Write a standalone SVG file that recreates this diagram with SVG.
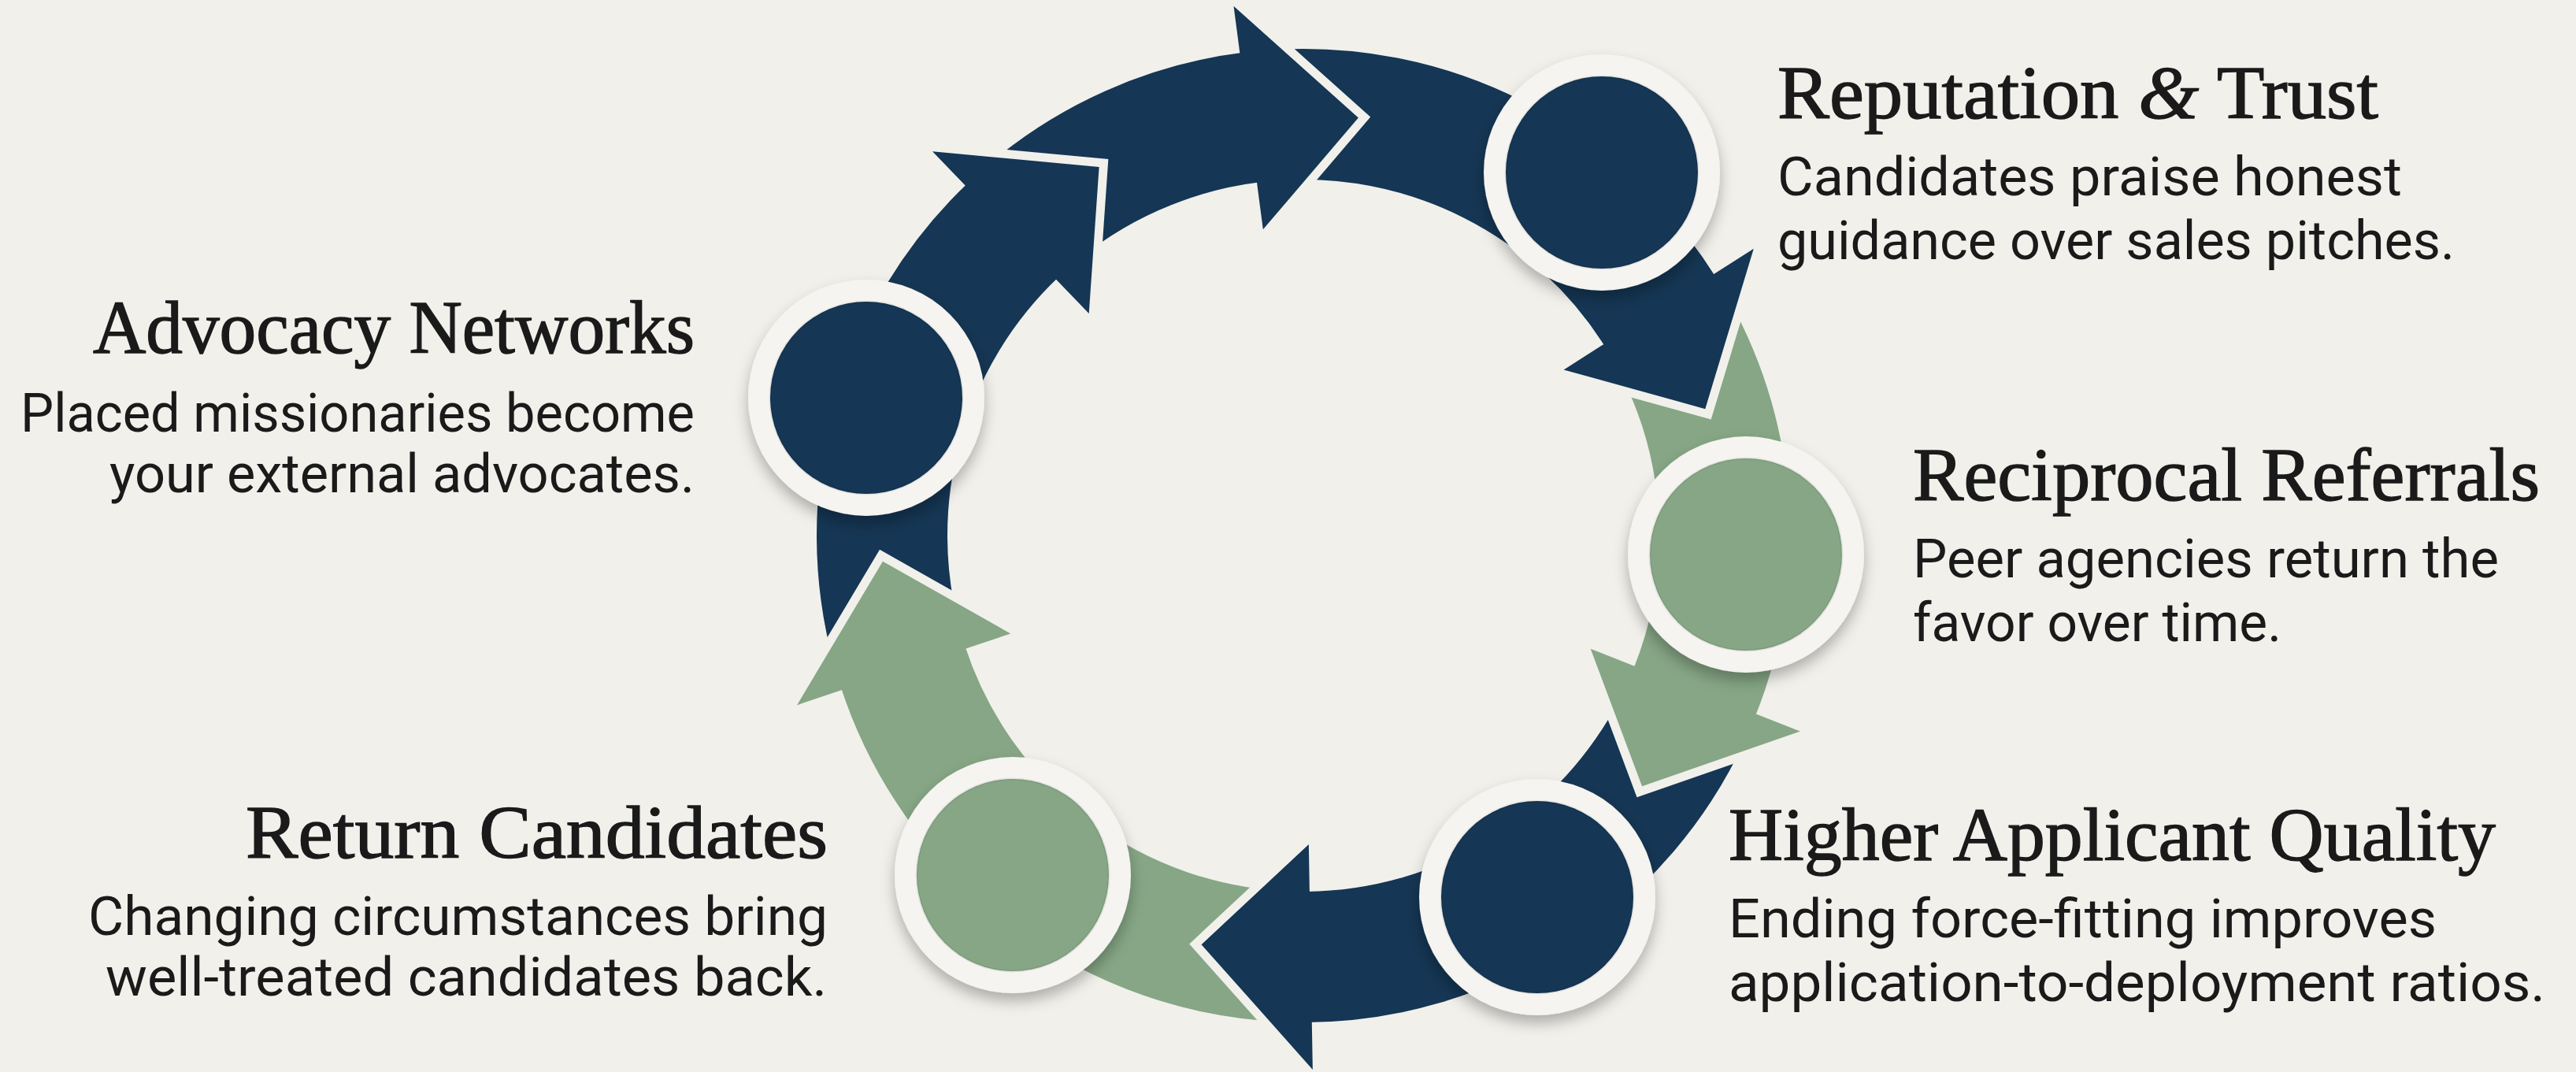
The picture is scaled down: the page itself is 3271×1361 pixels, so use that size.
<svg xmlns="http://www.w3.org/2000/svg" xmlns:xlink="http://www.w3.org/1999/xlink" width="3271" height="1361" viewBox="0 0 3271 1361">
  <defs>
    <style>
      .bg { fill: #F1F0EB; }
      .band { fill: none; stroke-width: 166; }
      .navy-band { stroke: #153654; }
      .sage-band { stroke: #86A685; }
      .navy { fill: #153654; }
      .sage { fill: #86A685; }
      .gap { fill: none; stroke: #F1F0EB; stroke-width: 22; stroke-linejoin: miter; stroke-miterlimit: 10; }
      .ring { fill: #F5F4F0; filter: url(#ringShadow); }
      .disc { stroke: rgba(0,0,0,0.07); stroke-width: 3; }
      .title { font-family: "Liberation Serif", "DejaVu Serif", serif; font-size: 96px; fill: #1A1A1A; stroke: #1A1A1A; stroke-width: 1.4; }
      .body { font-family: Roboto, "Liberation Sans", sans-serif; font-size: 68px; fill: #1A1A1A; }
    </style>
    <!-- arrowhead in a frame centred on the ring, base on the +x axis -->
    <path id="head" d="M618,0 L678,0 L516.8,138.5 L392,0 L452,0 Z"/>
    <polyline id="headGap" points="678,0 516.8,138.5 392,0"/>
    <filter id="ringShadow" x="-30%" y="-30%" width="160%" height="160%">
      <feDropShadow dx="0" dy="10" stdDeviation="9" flood-color="#000000" flood-opacity="0.28"/>
    </filter>
  </defs>

  <rect class="bg" x="0" y="0" width="3271" height="1361"/>

  <!-- curved arrows of the cycle -->
  <g id="connectors" transform="translate(1655 680)">
    <circle class="band navy-band" r="535" stroke-dasharray="578.9 4000" transform="rotate(164.5)"/>
    <circle class="band navy-band" r="535" stroke-dasharray="317.5 4000" transform="rotate(229)"/>
    <circle class="band navy-band" r="535" stroke-dasharray="583.6 4000" transform="rotate(265.5)"/>
    <circle class="band sage-band" r="535" stroke-dasharray="480.9 4000" transform="rotate(330.5)"/>
    <circle class="band navy-band" r="535" stroke-dasharray="606.9 4000" transform="rotate(24.5)"/>
    <circle class="band sage-band" r="535" stroke-dasharray="653.6 4000" transform="rotate(92)"/>

    <use xlink:href="#headGap" class="gap" transform="rotate(226)"/>
    <use xlink:href="#headGap" class="gap" transform="rotate(262.5)"/>
    <use xlink:href="#headGap" class="gap" transform="rotate(327.5)"/>
    <use xlink:href="#headGap" class="gap" transform="rotate(21.5)"/>
    <use xlink:href="#headGap" class="gap" transform="rotate(89)"/>
    <use xlink:href="#headGap" class="gap" transform="rotate(161.5)"/>

    <use xlink:href="#head" class="navy" transform="rotate(226)"/>
    <use xlink:href="#head" class="navy" transform="rotate(262.5)"/>
    <use xlink:href="#head" class="navy" transform="rotate(327.5)"/>
    <use xlink:href="#head" class="sage" transform="rotate(21.5)"/>
    <use xlink:href="#head" class="navy" transform="rotate(89)"/>
    <use xlink:href="#head" class="sage" transform="rotate(161.5)"/>
  </g>

  <g id="node-advocacy">
    <circle class="ring" cx="1100" cy="505" r="150"/>
    <circle class="navy disc" cx="1100" cy="505" r="122"/>
    <text class="title" x="882" y="448" text-anchor="end" textLength="764" lengthAdjust="spacingAndGlyphs">Advocacy Networks</text>
    <text class="body" x="882" y="548" text-anchor="end" textLength="856" lengthAdjust="spacingAndGlyphs">Placed missionaries become</text>
    <text class="body" x="882" y="625" text-anchor="end" textLength="743" lengthAdjust="spacingAndGlyphs">your external advocates.</text>
  </g>

  <g id="node-reputation">
    <circle class="ring" cx="2034" cy="219" r="150"/>
    <circle class="navy disc" cx="2034" cy="219" r="122"/>
    <text class="title" x="2257" y="150" textLength="763" lengthAdjust="spacingAndGlyphs">Reputation <tspan font-style="italic">&amp;</tspan> Trust</text>
    <text class="body" x="2257" y="248" textLength="793" lengthAdjust="spacingAndGlyphs">Candidates praise honest</text>
    <text class="body" x="2257" y="329" textLength="860" lengthAdjust="spacingAndGlyphs">guidance over sales pitches.</text>
  </g>

  <g id="node-reciprocal">
    <circle class="ring" cx="2217" cy="704" r="150"/>
    <circle class="sage disc" cx="2217" cy="704" r="122"/>
    <text class="title" x="2429" y="635" textLength="796" lengthAdjust="spacingAndGlyphs">Reciprocal Referrals</text>
    <text class="body" x="2429" y="733" textLength="744" lengthAdjust="spacingAndGlyphs">Peer agencies return the</text>
    <text class="body" x="2429" y="814" textLength="468" lengthAdjust="spacingAndGlyphs">favor over time.</text>
  </g>

  <g id="node-higher">
    <circle class="ring" cx="1952" cy="1139" r="150"/>
    <circle class="navy disc" cx="1952" cy="1139" r="122"/>
    <text class="title" x="2195" y="1092" textLength="974" lengthAdjust="spacingAndGlyphs">Higher Applicant Quality</text>
    <text class="body" x="2195" y="1190" textLength="899" lengthAdjust="spacingAndGlyphs">Ending force-fitting improves</text>
    <text class="body" x="2195" y="1271" textLength="1037" lengthAdjust="spacingAndGlyphs">application-to-deployment ratios.</text>
  </g>

  <g id="node-return">
    <circle class="ring" cx="1286" cy="1111" r="150"/>
    <circle class="sage disc" cx="1286" cy="1111" r="122"/>
    <text class="title" x="1051" y="1089" text-anchor="end" textLength="739" lengthAdjust="spacingAndGlyphs">Return Candidates</text>
    <text class="body" x="1051" y="1187" text-anchor="end" textLength="939" lengthAdjust="spacingAndGlyphs">Changing circumstances bring</text>
    <text class="body" x="1050" y="1264" text-anchor="end" textLength="916" lengthAdjust="spacingAndGlyphs">well-treated candidates back.</text>
  </g>
</svg>
